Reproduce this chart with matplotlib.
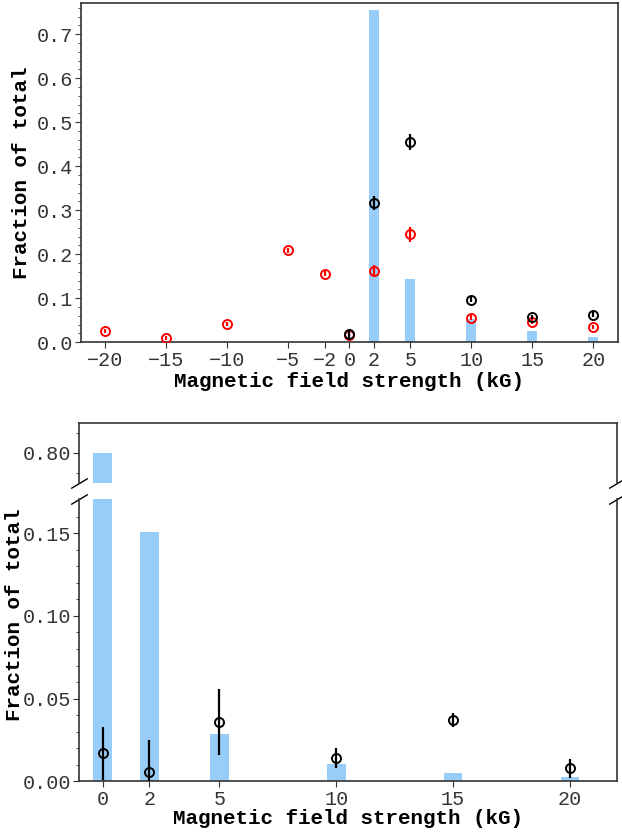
import numpy as np
import matplotlib
matplotlib.use("Agg")
import matplotlib.pyplot as plt
from matplotlib.ticker import MultipleLocator, FormatStrFormatter

plt.rcParams['font.family'] = ['Liberation Mono', 'DejaVu Sans Mono']
plt.rcParams['axes.edgecolor'] = '#333333'
plt.rcParams['axes.linewidth'] = 1.2

# Top panel: field distribution (bars) and two sets of fractions (points)
top_bar_x = [2, 5, 10, 15, 20]
top_bar_y = [0.755, 0.144, 0.052, 0.026, 0.012]

top_black_x = [0, 2, 5, 10, 15, 20]
top_black_y = [0.018, 0.317, 0.455, 0.097, 0.058, 0.063]
top_black_err = [0.010, 0.016, 0.019, 0.005, 0.005, 0.005]

top_red_x = [-20, -15, -10, -5, -2, 0, 2, 5, 10, 15, 20]
top_red_y = [0.026, 0.010, 0.042, 0.209, 0.156, 0.017, 0.162, 0.245, 0.056, 0.047, 0.035]
top_red_err = [0.004, 0.004, 0.005, 0.006, 0.006, 0.008, 0.014, 0.018, 0.005, 0.005, 0.005]

top_ticks = [-20, -15, -10, -5, -2, 0, 2, 5, 10, 15, 20]

# Bottom panel (broken y axis)
bot_x = [0, 2, 5, 10, 15, 20]
bot_bar_y = [0.800, 0.151, 0.0286, 0.0105, 0.005, 0.0026]
bot_pt_y = [0.0169, 0.0058, 0.0358, 0.0139, 0.037, 0.0079]
bot_pt_err = [0.016, 0.019, 0.020, 0.006, 0.004, 0.0058]

bar_color = '#97cdf8'
fs_tick = 14.5
fs_label = 15

fig = plt.figure(figsize=(6.22, 8.34), dpi=100)

W, H = 622, 834
def box(l, t, r, b):
    return [l / W, 1 - b / H, (r - l) / W, (b - t) / H]

# ---- top panel
ax = fig.add_axes(box(81, 3, 617.7, 342.3))
ax.bar(top_bar_x, top_bar_y, width=0.8, color=bar_color, zorder=1)
ax.errorbar(top_red_x, top_red_y, yerr=top_red_err, fmt='o', mfc='none', mec='red',
            ecolor='red', mew=1.4, ms=6.5, elinewidth=1.6, capsize=0, zorder=3)
ax.errorbar(top_black_x, top_black_y, yerr=top_black_err, fmt='o', mfc='none', mec='black',
            ecolor='black', mew=1.4, ms=6.5, elinewidth=1.6, capsize=0, zorder=4)
ax.set_xlim(-22, 22)
ax.set_ylim(0, 0.771)
ax.set_xticks(top_ticks)
ax.set_xticklabels([str(t).replace('-', '\u2212') for t in top_ticks])
ax.yaxis.set_major_locator(MultipleLocator(0.1))
ax.yaxis.set_minor_locator(MultipleLocator(0.02))
ax.yaxis.set_major_formatter(FormatStrFormatter('%.1f'))
ax.tick_params(which='major', length=4, pad=2, labelsize=fs_tick, colors='#333333')
ax.tick_params(which='minor', length=2, colors='#333333')
ax.set_xlabel('Magnetic field strength (kG)', fontsize=fs_label, fontweight='bold', labelpad=2)
ax.set_ylabel('Fraction of total', fontsize=fs_label, fontweight='bold')

# ---- bottom panel, upper piece and lower piece
ax_hi = fig.add_axes(box(79.3, 422.7, 616.7, 483))
ax_lo = fig.add_axes(box(79.3, 499, 616.7, 781.3))

for a in (ax_hi, ax_lo):
    a.bar(bot_x, bot_bar_y, width=0.8, color=bar_color, zorder=1)
    a.errorbar(bot_x, bot_pt_y, yerr=bot_pt_err, fmt='o', mfc='none', mec='black',
               ecolor='black', mew=1.4, ms=6.5, elinewidth=1.6, capsize=0, zorder=4)
    a.set_xlim(-1, 22)
    a.tick_params(which='major', length=4, pad=2, labelsize=fs_tick, colors='#333333')
    a.tick_params(which='minor', length=2, colors='#333333')

ax_hi.set_ylim(0.785, 0.815)
ax_hi.set_yticks([0.80])
ax_hi.yaxis.set_minor_locator(MultipleLocator(0.01))
ax_hi.yaxis.set_major_formatter(FormatStrFormatter('%.2f'))
ax_hi.spines['bottom'].set_visible(False)
ax_hi.tick_params(axis='x', bottom=False, labelbottom=False)

ax_lo.set_ylim(0, 0.1707)
ax_lo.set_yticks([0, 0.05, 0.10, 0.15])
ax_lo.yaxis.set_minor_locator(MultipleLocator(0.01))
ax_lo.yaxis.set_major_formatter(FormatStrFormatter('%.2f'))
ax_lo.spines['top'].set_visible(False)
ax_lo.set_xticks(bot_x)
ax_lo.set_xlabel('Magnetic field strength (kG)', fontsize=fs_label, fontweight='bold', labelpad=0)

# break marks
d = 0.6
kw = dict(marker=[(-1, -d), (1, d)], markersize=12, linestyle='none',
          color='k', mec='k', mew=1, clip_on=False)
ax_hi.plot([0, 1], [0, 0], transform=ax_hi.transAxes, **kw)
ax_lo.plot([0, 1], [1, 1], transform=ax_lo.transAxes, **kw)

fig.text(15 / W, 1 - 615 / H, 'Fraction of total', rotation=90, ha='center', va='center',
         fontsize=fs_label, fontweight='bold')

fig.savefig('out.png', dpi=100)
